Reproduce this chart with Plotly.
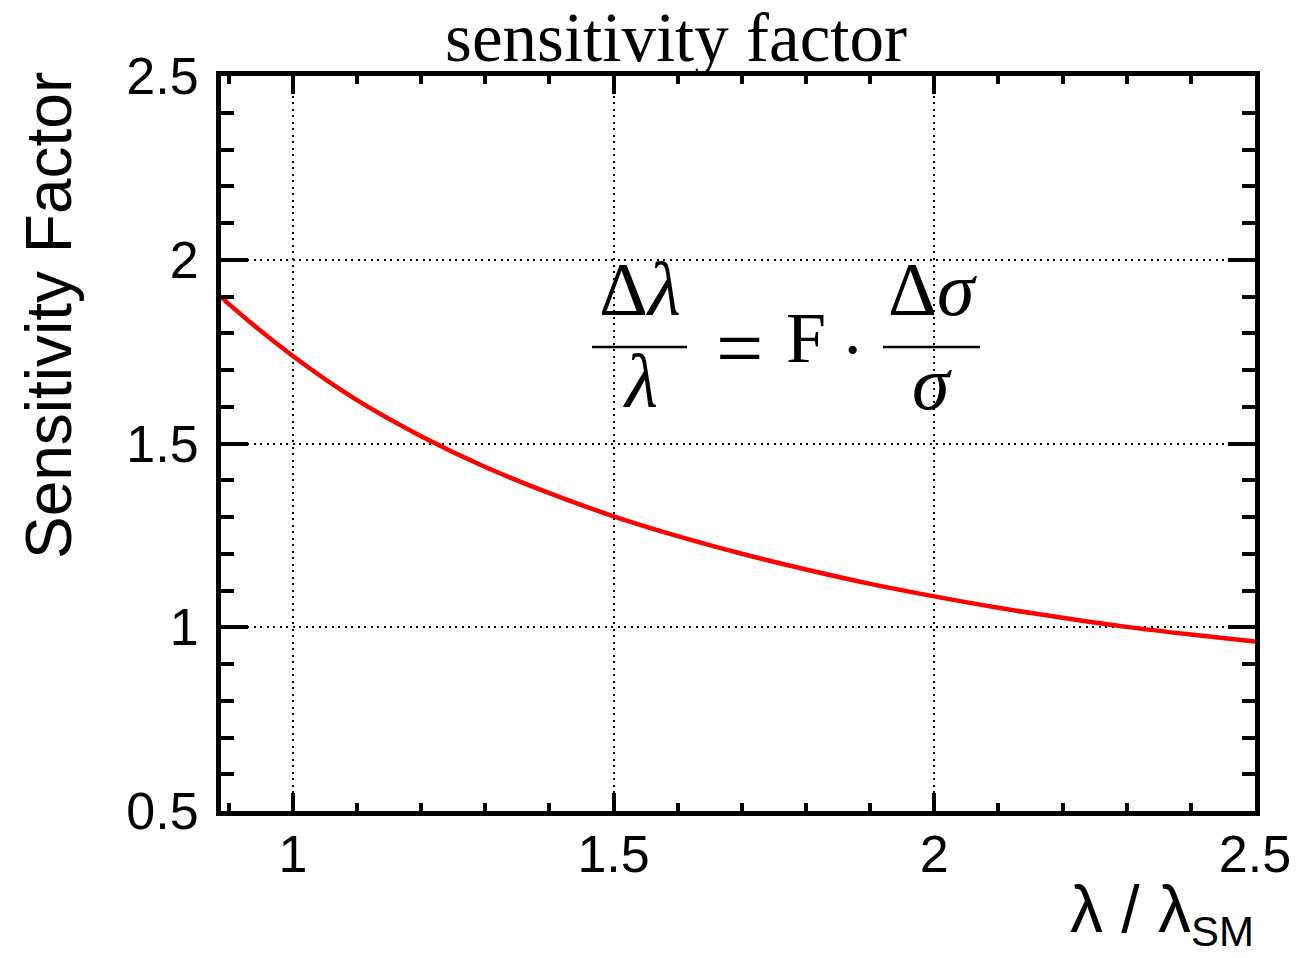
import plotly.graph_objects as go

# ---- data ----
lambda_ratio = [0.888, 0.9, 1.0, 1.1, 1.2, 1.3, 1.4, 1.5, 1.6, 1.7, 1.8, 1.9,
                2.0, 2.1, 2.2, 2.3, 2.4, 2.5]
sens_factor = [1.90, 1.88, 1.738, 1.618, 1.52, 1.436, 1.365, 1.302, 1.248,
               1.200, 1.157, 1.118, 1.084, 1.053, 1.026, 1.001, 0.980, 0.961]

x_tickvals = [1, 1.5, 2, 2.5]
x_ticktext = ["1", "1.5", "2", "2.5"]
y_tickvals = [0.5, 1, 1.5, 2, 2.5]
y_ticktext = ["0.5", "1", "1.5", "2", "2.5"]

title_text = "sensitivity factor"
y_title = "Sensitivity Factor"
x_title = "λ / λ<sub><span style='font-size:42px'>SM</span></sub>"

W, H = 1300, 958
L, R, T, B = 221, 45, 76, 147
PW, PH = W - L - R, H - T - B


def px(xp):
    return (xp - L) / PW


def py(yp):
    return (H - B - yp) / PH


fig = go.Figure()
fig.add_trace(go.Scatter(
    x=lambda_ratio, y=sens_factor, mode="lines",
    line=dict(color="#ff0000", width=4.5, shape="spline"),
    showlegend=False, hoverinfo="skip"))

sans = "Liberation Sans, Arial, Helvetica, sans-serif"
serif = "Liberation Serif, Times New Roman, serif"

axis_common = dict(
    showline=True, linecolor="black", linewidth=5, mirror="allticks",
    ticks="inside", tickcolor="black",
    showgrid=True, gridcolor="black", gridwidth=1.8, griddash="2px,4.5px",
    zeroline=False,
    tickfont=dict(family=sans, size=52, color="black"),
)

fig.update_xaxes(
    range=[0.888, 2.5], tickvals=x_tickvals, ticktext=x_ticktext,
    ticklen=18, tickwidth=3.5, ticklabelstandoff=-6,
    minor=dict(ticks="inside", ticklen=8, tickwidth=3.5, tickcolor="black",
               dtick=0.1, tick0=0, showgrid=False),
    **axis_common)
fig.update_yaxes(
    range=[0.5, 2.5], tickvals=y_tickvals, ticktext=y_ticktext,
    ticklen=27, tickwidth=4, ticklabelstandoff=7,
    minor=dict(ticks="inside", ticklen=13, tickwidth=4, tickcolor="black",
               dtick=0.1, tick0=0, showgrid=False),
    **axis_common)

fsize = 76
annotations = [
    dict(text=y_title, x=px(49), y=py(316), xref="paper", yref="paper",
         textangle=-90, showarrow=False, xanchor="center", yanchor="middle",
         font=dict(family=sans, size=64, color="black")),
    dict(text=x_title, x=px(1256), y=py(870), xref="paper", yref="paper",
         showarrow=False, xanchor="right", yanchor="top",
         font=dict(family=sans, size=66, color="black")),
    # formula  (delta lambda / lambda = F . delta sigma / sigma)
    dict(text="Δ<i>λ</i>", x=px(640), y=py(289), xref="paper", yref="paper",
         showarrow=False, xanchor="center", yanchor="middle",
         font=dict(family=serif, size=fsize, color="black")),
    dict(text="<i>λ</i>", x=px(640), y=py(381), xref="paper", yref="paper",
         showarrow=False, xanchor="center", yanchor="middle",
         font=dict(family=serif, size=fsize, color="black")),
    dict(text="=", x=px(739.5), y=py(348.5), xref="paper", yref="paper",
         showarrow=False, xanchor="center", yanchor="middle",
         font=dict(family=serif, size=84, color="black")),
    dict(text="F", x=px(806), y=py(338), xref="paper", yref="paper",
         showarrow=False, xanchor="center", yanchor="middle",
         font=dict(family=serif, size=72, color="black")),
    dict(text="·", x=px(852), y=py(349), xref="paper", yref="paper",
         showarrow=False, xanchor="center", yanchor="middle",
         font=dict(family=serif, size=70, color="black")),
    dict(text="Δ<i>σ</i>", x=px(932.5), y=py(289), xref="paper", yref="paper",
         showarrow=False, xanchor="center", yanchor="middle",
         font=dict(family=serif, size=fsize, color="black")),
    dict(text="<i>σ</i>", x=px(931.5), y=py(383), xref="paper", yref="paper",
         showarrow=False, xanchor="center", yanchor="middle",
         font=dict(family=serif, size=fsize, color="black")),
]

shapes = [
    dict(type="line", xref="paper", yref="paper", x0=px(592), x1=px(687),
         y0=py(347), y1=py(347), line=dict(color="black", width=2.5)),
    dict(type="line", xref="paper", yref="paper", x0=px(883), x1=px(980),
         y0=py(347), y1=py(347), line=dict(color="black", width=2.5)),
]

fig.update_layout(
    width=W, height=H,
    margin=dict(l=L, r=R, t=T, b=B, autoexpand=False),
    paper_bgcolor="white", plot_bgcolor="white",
    title=dict(text=title_text, x=px(676), xref="paper", xanchor="center",
               y=1 - 37 / H, yanchor="middle",
               font=dict(family=serif, size=69, color="black")),
    annotations=annotations, shapes=shapes,
)

fig.write_html("out.html",
               config={"displayModeBar": False},
               post_script="document.body.style.margin='0px';")
